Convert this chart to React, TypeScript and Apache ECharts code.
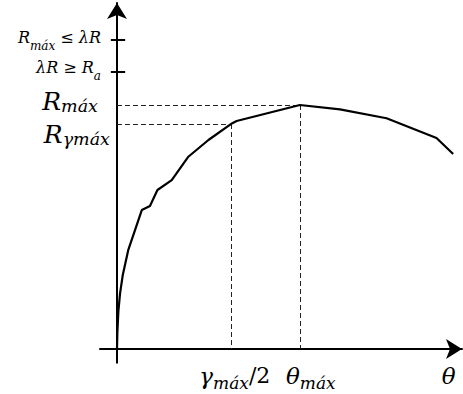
import React, { useEffect, useRef } from 'react';
import * as echarts from 'echarts';

// Curve: theta (x) and R (y), in arbitrary 0-100 units
const thetaData = [0, 0.1, 0.4, 0.9, 1.7, 3.3, 5.3, 7.3, 9.7, 11.9, 16.1, 20.9, 26.9, 33.5, 35.2, 53.8, 65.6, 79.3, 94.0, 98.9];
const rData = [0, 4.6, 11.0, 16.4, 21.8, 29.1, 35.0, 40.9, 42.1, 46.8, 49.7, 56.5, 61.5, 66.2, 67.1, 71.8, 70.5, 67.9, 62.1, 57.4];

// Key points
const thetaMax = 53.8;
const rMax = 71.8;
const gammaHalf = 33.5;
const rGamma = 66.2;

// Y axis ticks with labels
const yTickValues = [90.9, 81.5];
const yTickLabels = ['{a1|R}{s1|máx}{a1| ≤ λR}{p|}', '{a2|λR ≥ R}{s2|a}{p|}'];
const yRefValues = [rMax];
const yRefLabels = ['{b1|R}{bs1|máx}{pb|}'];
const rGammaLabel = '{b2|R}{bs2|γmáx}';

// X axis labels
const thetaEnd = 97.6;
const xLabelValues = [gammaHalf, thetaMax, thetaEnd];
const xLabelTexts = ['{px|}{x|γ}{xs|máx}{xu|/2}', '{py|}{x|θ}{xs|máx}', '{x|θ}'];

const FONT = '"DejaVu Serif", "Liberation Serif", serif';

const it = (fontSize: number, lineHeight: number, padding: number[]) => ({
  fontFamily: FONT,
  fontStyle: 'italic',
  fontSize,
  lineHeight,
  verticalAlign: 'middle',
  color: '#000',
  padding,
});

const richY = {
  a1: it(16, 18, [0, 0, 5, 0]),
  s1: it(12, 12, [12.6, 0, 0, 0]),
  a2: it(16, 18, [0, 0, 9, 0]),
  s2: it(12, 12, [7.6, 0, 0, 0]),
  p: { width: 7 },
  b1: it(25, 25, [0, 0, 7.2, 0]),
  bs1: it(17.5, 17, [2.2, 0, 0, 0]),
  b2: it(25, 25, [20.8, 0, 0, 0]),
  bs2: it(17.5, 17, [30, 0, 0, 0]),
  pb: { width: 10 },
};

const richX = {
  x: it(23, 30, [0, 0, 0, 0]),
  xs: it(17, 15, [15, 0, 0, 0]),
  xu: { fontFamily: FONT, fontSize: 22, lineHeight: 30, verticalAlign: 'middle', color: '#000' },
  px: { width: 8 },
  py: { width: 22 },
};

export default function App() {
  const ref = useRef<HTMLDivElement>(null);
  useEffect(() => {
    if (!ref.current) return;
    const chart = echarts.init(ref.current, null, { renderer: 'svg' });
    const pts = thetaData.map((t, i) => [t, rData[i]]);
    const yAll = [...yTickValues, ...yRefValues];
    const yTexts = [...yTickLabels, ...yRefLabels];
    const dash = { color: '#222', width: 1, type: [5, 3] as any };
    chart.setOption({
      animation: false,
      backgroundColor: '#fff',
      grid: { left: 100, top: 3, width: 362, height: 359.7, outerBoundsMode: 'none' },
      xAxis: {
        type: 'value',
        min: -5,
        max: 101.5,
        axisLine: {
          onZero: true,
          symbol: ['none', 'arrow'],
          symbolSize: [15, 16],
          lineStyle: { color: '#000', width: 2 },
        },
        axisTick: { show: false },
        splitLine: { show: false },
        axisLabel: {
          customValues: xLabelValues,
          margin: -2,
          hideOverlap: false,
          color: '#000',
          formatter: (v: number) => {
            const i = xLabelValues.findIndex((x) => Math.abs(x - v) < 0.01);
            return i >= 0 ? xLabelTexts[i] : '';
          },
          rich: richX,
        },
      },
      yAxis: {
        type: 'value',
        min: -4,
        max: 101.8,
        axisLine: {
          onZero: true,
          symbol: ['none', 'arrow'],
          symbolSize: [15, 16],
          lineStyle: { color: '#000', width: 2 },
        },
        axisTick: { show: false },
        splitLine: { show: false },
        axisLabel: {
          customValues: yAll,
          margin: -8,
          hideOverlap: false,
          color: '#000',
          formatter: (v: number) => {
            const i = yAll.findIndex((x) => Math.abs(x - v) < 0.01);
            return i >= 0 ? yTexts[i] : '';
          },
          rich: richY,
        },
      },
      series: [
        {
          type: 'line',
          data: pts,
          symbol: 'none',
          lineStyle: { color: '#000', width: 2.2 },
          z: 5,
          markLine: {
            silent: true,
            symbol: 'none',
            label: { show: false },
            lineStyle: dash,
            data: [
              [{ coord: [0, rMax] }, { coord: [thetaMax, rMax] }],
              [{ coord: [thetaMax, rMax] }, { coord: [thetaMax, 0] }],
              [{ coord: [gammaHalf, rGamma] }, { coord: [gammaHalf, 0] }],
            ],
          },
        },
        {
          type: 'line',
          data: [],
          markLine: {
            silent: true,
            symbol: 'none',
            lineStyle: dash,
            label: {
              show: true,
              position: 'start',
              distance: 7,
              formatter: rGammaLabel,
              rich: richY,
            },
            data: [[{ coord: [0, rGamma] }, { coord: [gammaHalf, rGamma] }]],
          },
        },
        {
          type: 'line',
          data: [],
          markLine: {
            silent: true,
            symbol: 'none',
            label: { show: false },
            lineStyle: { color: '#000', width: 2, type: 'solid' },
            data: yTickValues.map((v) => [{ coord: [-1.8, v] }, { coord: [2.4, v] }]),
          },
        },
      ],
    });
    return () => chart.dispose();
  }, []);
  return <div ref={ref} style={{ position: 'fixed', left: 0, top: 0, width: 463, height: 394 }} />;
}
